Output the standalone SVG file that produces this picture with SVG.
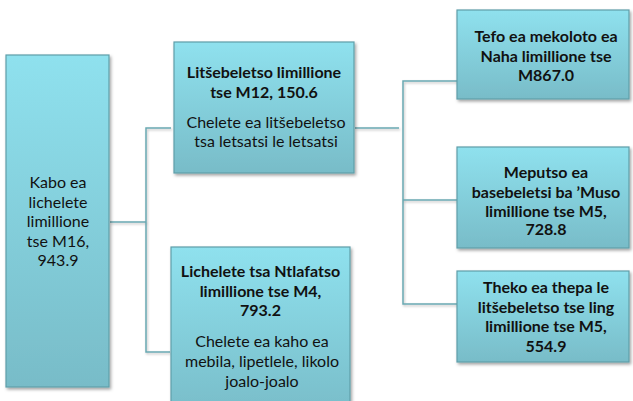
<svg xmlns="http://www.w3.org/2000/svg" width="633" height="401" viewBox="0 0 633 401">
<defs>
<linearGradient id="g" x1="0" y1="0" x2="0" y2="1">
<stop offset="0" stop-color="#8fe1ee"/>
<stop offset="1" stop-color="#78bcc8"/>
</linearGradient>
<filter id="sh" x="-10%" y="-10%" width="130%" height="130%">
<feDropShadow dx="1.5" dy="2" stdDeviation="1.5" flood-color="#000" flood-opacity="0.35"/>
</filter>
<filter id="lsh" filterUnits="userSpaceOnUse" x="0" y="0" width="633" height="401">
<feDropShadow dx="1" dy="1.5" stdDeviation="1" flood-color="#000" flood-opacity="0.25"/>
</filter>
</defs>
<style>
.box{fill:url(#g);stroke:#5f9ea9;stroke-width:1.2;filter:url(#sh)}
.con{fill:none;stroke:#6aa8b2;stroke-width:1.5;filter:url(#lsh)}
text{font-family:Lato,"Noto Sans",sans-serif;font-size:16px;fill:#111;text-anchor:middle}
.b{font-weight:bold}
</style>
<g id="connectors">
<polyline class="con" points="110,222 146,222"/>
<polyline class="con" points="171,128 146,128 146,352 170,352"/>
<polyline class="con" points="355,128 399,128"/>
<polyline class="con" points="457,81 403,81 403,304 457,304"/>
<polyline class="con" points="403,200 457,200"/>
</g>
<g id="root">
<rect class="box" x="6" y="55" width="103" height="332"/>
<text x="58" y="188">Kabo ea</text>
<text x="58" y="208">lichelete</text>
<text x="58" y="227">limillione</text>
<text x="58" y="247">tse M16,</text>
<text x="58" y="266">943.9</text>
</g>
<g id="litsebeletso">
<rect class="box" x="174" y="42" width="180" height="131"/>
<text class="b" x="264" y="78">Litšebeletso limillione</text>
<text class="b" x="264" y="98">tse M12, 150.6</text>
<text x="266" y="128">Chelete ea litšebeletso</text>
<text x="266" y="147">tsa letsatsi le letsatsi</text>
</g>
<g id="ntlafatso">
<rect class="box" x="171" y="247" width="179" height="170"/>
<text class="b" x="260.5" y="277">Lichelete tsa Ntlafatso</text>
<text class="b" x="260.5" y="297">limillione tse M4,</text>
<text class="b" x="260.5" y="316">793.2</text>
<text x="262" y="347">Chelete ea kaho ea</text>
<text x="262" y="367">mebila, lipetlele, likolo</text>
<text x="262" y="387">joalo-joalo</text>
</g>
<g id="mekoloto">
<rect class="box" x="457" y="10" width="172" height="89"/>
<text class="b" x="546" y="42">Tefo ea mekoloto ea</text>
<text class="b" x="546" y="62">Naha limillione tse</text>
<text class="b" x="546" y="81">M867.0</text>
</g>
<g id="meputso">
<rect class="box" x="457" y="147" width="172" height="101"/>
<text class="b" x="546" y="178">Meputso ea</text>
<text class="b" x="546" y="198">basebeletsi ba ’Muso</text>
<text class="b" x="546" y="217">limillione tse M5,</text>
<text class="b" x="546" y="235">728.8</text>
</g>
<g id="thepa">
<rect class="box" x="457" y="271" width="172" height="91"/>
<text class="b" x="546" y="293">Theko ea thepa le</text>
<text class="b" x="546" y="313">litšebeletso tse ling</text>
<text class="b" x="546" y="332">limillione tse M5,</text>
<text class="b" x="546" y="352">554.9</text>
</g>
</svg>
